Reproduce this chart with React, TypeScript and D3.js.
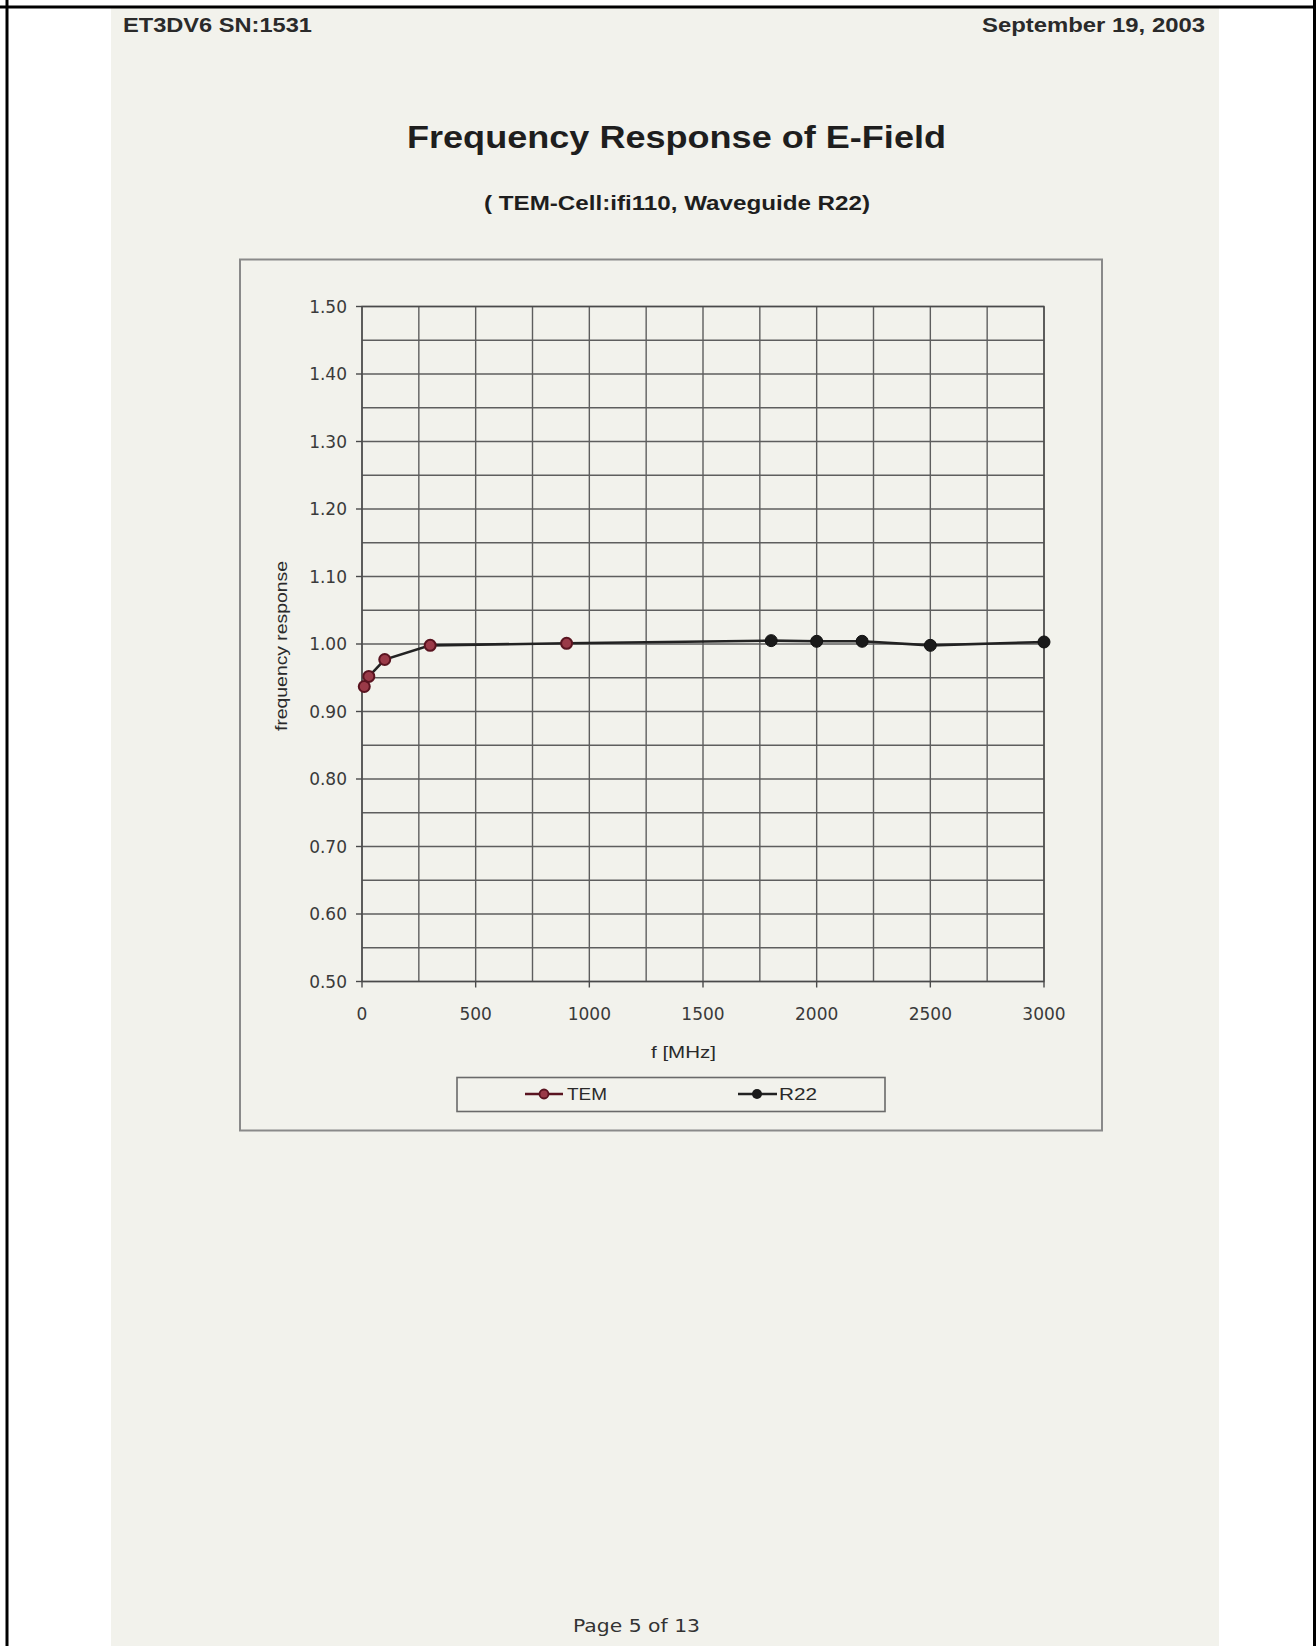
import React from "react";
import * as d3 from "d3";

const temFreq = [10, 30, 100, 300, 900];
const temValue = [0.937, 0.952, 0.977, 0.998, 1.001];
const r22Freq = [1800, 2000, 2200, 2500, 3000];
const r22Value = [1.005, 1.004, 1.004, 0.998, 1.003];
const yTicks = [0.5, 0.6, 0.7, 0.8, 0.9, 1.0, 1.1, 1.2, 1.3, 1.4, 1.5];
const xTicks = [0, 500, 1000, 1500, 2000, 2500, 3000];
const seriesNames = ["TEM", "R22"];

const W = 1316;
const H = 1646;
const PAPER = "#f2f2ec";
const GRID = "#5e5e5e";

export default function App() {
  const x = d3.scaleLinear().domain([0, 3000]).range([362, 1044]);
  const y = d3.scaleLinear().domain([0.5, 1.5]).range([981.5, 306.5]);

  const xGrid = d3.range(0, 3001, 250);
  const yGrid = d3.range(0.5, 1.5001, 0.05);

  const tem = temFreq.map((f, i) => ({ f, v: temValue[i] }));
  const r22 = r22Freq.map((f, i) => ({ f, v: r22Value[i] }));
  const all = [...tem, ...r22];

  const line = d3
    .line<{ f: number; v: number }>()
    .x((d) => x(d.f))
    .y((d) => y(d.v));

  const [x0, x1] = x.range();
  const [y0, y1] = y.range();

  return (
    <svg
      width={W}
      height={H}
      style={{ position: "absolute", left: 0, top: 0, background: "#ffffff" }}
    >
      {/* paper */}
      <rect x={111} y={8} width={1108} height={H - 8} fill={PAPER} />
      {/* page border */}
      <line x1={7} y1={0} x2={7} y2={H} stroke="#000" strokeWidth={3} />
      <line x1={0} y1={7} x2={W} y2={7} stroke="#000" strokeWidth={3} />
      <line x1={1314.5} y1={0} x2={1314.5} y2={H} stroke="#000" strokeWidth={3} />

      {/* header */}
      <text
        x={123}
        y={32}
        fontFamily="Liberation Sans, Arial, sans-serif"
        fontWeight="bold"
        fontSize={20}
        fill="#2a2a2a"
        textLength={189}
        lengthAdjust="spacingAndGlyphs"
      >
        ET3DV6 SN:1531
      </text>
      <text
        x={982}
        y={32}
        fontFamily="Liberation Sans, Arial, sans-serif"
        fontWeight="bold"
        fontSize={20}
        fill="#2a2a2a"
        textLength={223}
        lengthAdjust="spacingAndGlyphs"
      >
        September 19, 2003
      </text>

      {/* titles */}
      <text
        x={407}
        y={148}
        fontFamily="Liberation Sans, Arial, sans-serif"
        fontWeight="bold"
        fontSize={31}
        fill="#1e1e1e"
        textLength={539}
        lengthAdjust="spacingAndGlyphs"
      >
        Frequency Response of E-Field
      </text>
      <text
        x={484}
        y={210}
        fontFamily="Liberation Sans, Arial, sans-serif"
        fontWeight="bold"
        fontSize={20}
        fill="#1e1e1e"
        textLength={386}
        lengthAdjust="spacingAndGlyphs"
      >
        ( TEM-Cell:ifi110, Waveguide R22)
      </text>

      {/* chart outer box */}
      <rect x={240} y={259.5} width={862} height={871} fill="none" stroke="#8a8a8a" strokeWidth={2} />

      {/* grid */}
      {yGrid.map((v, i) => (
        <line key={"hy" + i} x1={x0} x2={x1} y1={y(v)} y2={y(v)} stroke={GRID} strokeWidth={1.4} />
      ))}
      {xGrid.map((f, i) => (
        <line key={"vx" + i} x1={x(f)} x2={x(f)} y1={y0} y2={y1} stroke={GRID} strokeWidth={1.4} />
      ))}
      <rect x={x0} y={y1} width={x1 - x0} height={y0 - y1} fill="none" stroke="#4a4a4a" strokeWidth={1.4} />

      {/* y ticks */}
      {yTicks.map((v, i) => (
        <g key={"yt" + i}>
          <line x1={x0 - 6} x2={x0} y1={y(v)} y2={y(v)} stroke="#4a4a4a" strokeWidth={1.4} />
          <text
            x={347}
            y={y(v)}
            dy="0.36em"
            textAnchor="end"
            fontFamily="DejaVu Sans, Verdana, sans-serif"
            fontSize={17}
            fill="#3a3a3a"
          >
            {v.toFixed(2)}
          </text>
        </g>
      ))}
      {/* x ticks */}
      {xTicks.map((f, i) => (
        <g key={"xt" + i}>
          <line x1={x(f)} x2={x(f)} y1={y0} y2={y0 + 6} stroke="#4a4a4a" strokeWidth={1.4} />
          <text
            x={x(f)}
            y={1014}
            dy="0.36em"
            textAnchor="middle"
            fontFamily="DejaVu Sans, Verdana, sans-serif"
            fontSize={17}
            fill="#3a3a3a"
          >
            {f}
          </text>
        </g>
      ))}

      {/* axis titles */}
      <text
        x={651}
        y={1058}
        fontFamily="Liberation Sans, Arial, sans-serif"
        fontSize={17}
        fill="#2a2a2a"
        textLength={65}
        lengthAdjust="spacingAndGlyphs"
      >
        f [MHz]
      </text>
      <text
        transform={`translate(287, 731) rotate(-90)`}
        fontFamily="Liberation Sans, Arial, sans-serif"
        fontSize={17}
        fill="#2a2a2a"
        textLength={170}
        lengthAdjust="spacingAndGlyphs"
      >
        frequency response
      </text>

      {/* data line */}
      <path d={line(all) || ""} fill="none" stroke="#222" strokeWidth={2.6} />
      {tem.map((d, i) => (
        <circle key={"tm" + i} cx={x(d.f)} cy={y(d.v)} r={5.5} fill="#9a3a48" stroke="#5a1420" strokeWidth={2} />
      ))}
      {r22.map((d, i) => (
        <circle key={"rm" + i} cx={x(d.f)} cy={y(d.v)} r={6} fill="#1a1a1a" stroke="#111" strokeWidth={1} />
      ))}

      {/* legend */}
      <rect x={457} y={1077.5} width={428} height={34} fill={PAPER} stroke="#6a6a6a" strokeWidth={1.6} />
      <line x1={525} x2={563} y1={1094} y2={1094} stroke="#5a1420" strokeWidth={2.4} />
      <circle cx={544} cy={1094} r={4.5} fill="#9a3a48" stroke="#5a1420" strokeWidth={1.8} />
      <text x={567} y={1100} fontFamily="Liberation Sans, Arial, sans-serif" fontSize={17} fill="#2a2a2a" textLength={40} lengthAdjust="spacingAndGlyphs">
        {seriesNames[0]}
      </text>
      <line x1={738} x2={777} y1={1094} y2={1094} stroke="#222" strokeWidth={2.4} />
      <circle cx={757} cy={1094} r={5} fill="#1a1a1a" />
      <text x={779} y={1100} fontFamily="Liberation Sans, Arial, sans-serif" fontSize={17} fill="#2a2a2a" textLength={38} lengthAdjust="spacingAndGlyphs">
        {seriesNames[1]}
      </text>

      {/* footer */}
      <text
        x={573}
        y={1632}
        fontFamily="DejaVu Sans, Verdana, sans-serif"
        fontSize={18}
        fill="#333"
        textLength={127}
        lengthAdjust="spacingAndGlyphs"
      >
        Page 5 of 13
      </text>
    </svg>
  );
}
